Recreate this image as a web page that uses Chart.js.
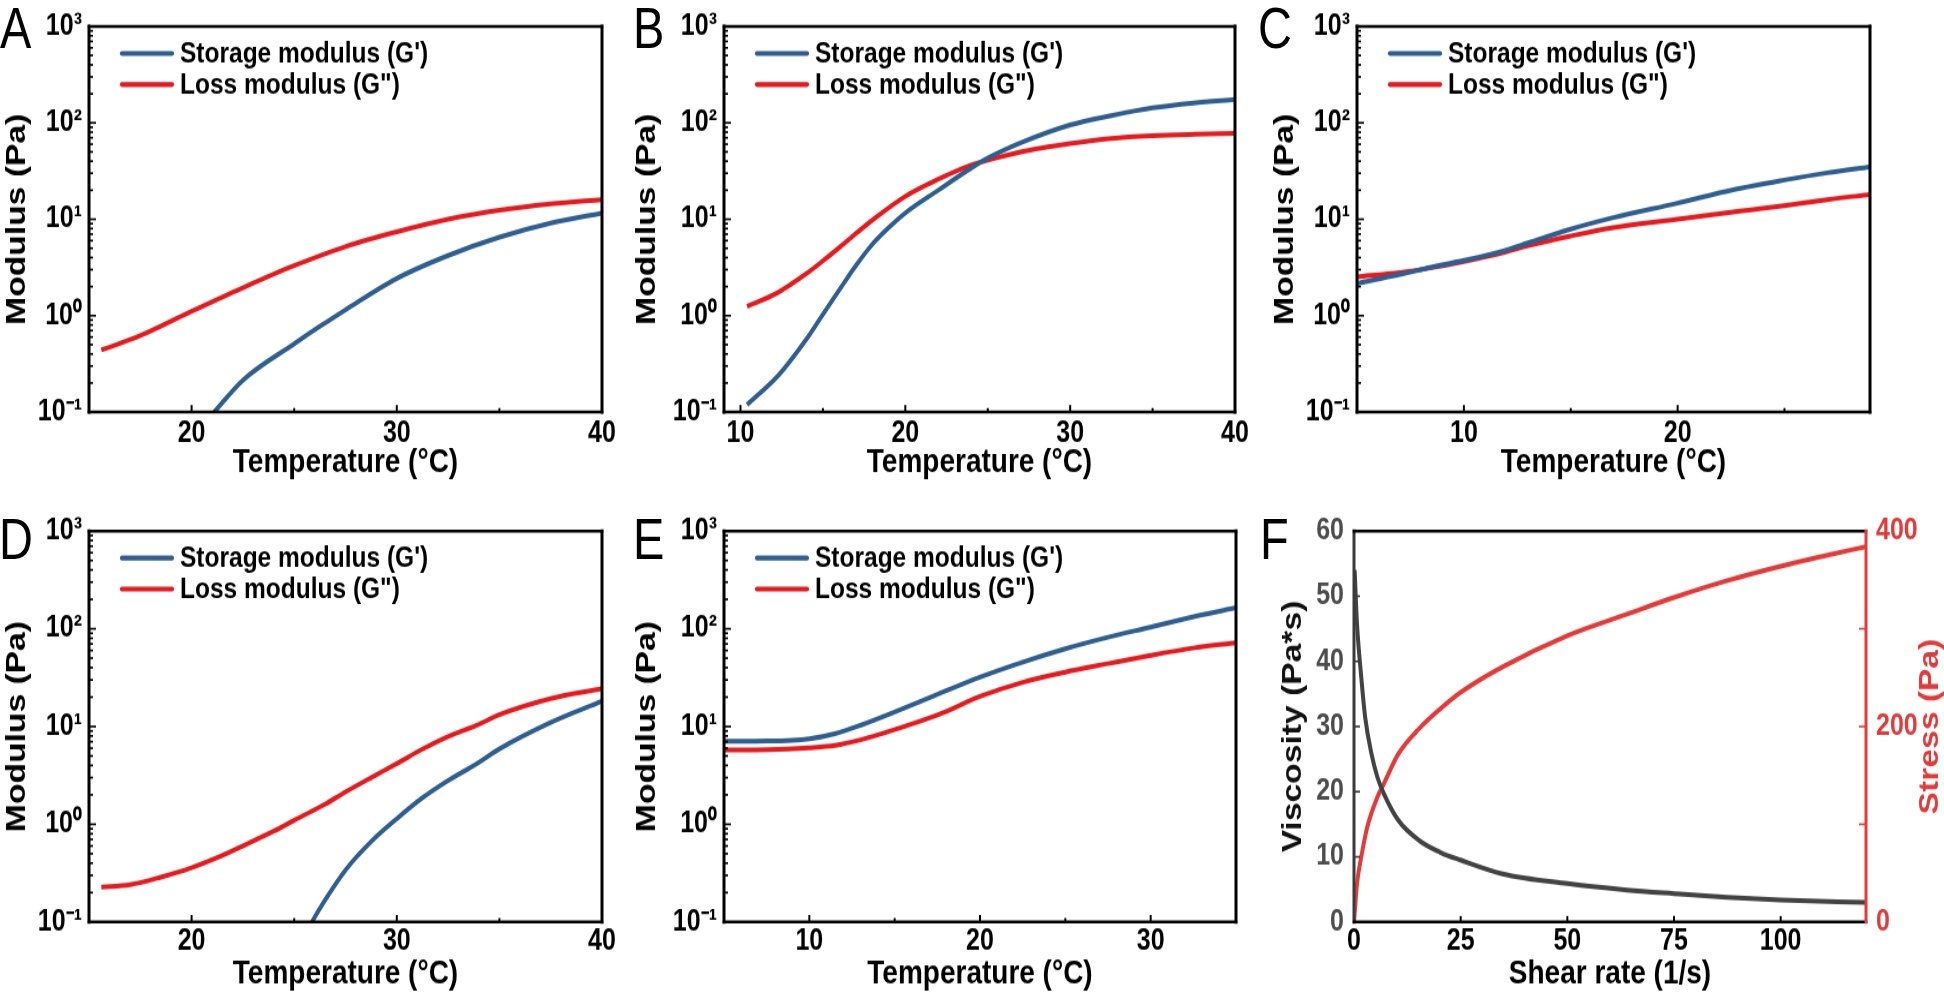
<!DOCTYPE html>
<html><head><meta charset="utf-8">
<script src="https://cdn.jsdelivr.net/npm/chart.js@4.4.1/dist/chart.umd.min.js"></script>
<style>
html,body{margin:0;padding:0;background:#fff;width:1944px;height:993px;overflow:hidden}
#wrap{position:relative;width:1944px;height:993px}
canvas{position:absolute}
.lbl{position:absolute;font-family:'Liberation Sans',Arial,sans-serif;font-size:47px;line-height:47px;color:#000;font-weight:normal;transform:scaleY(1.22);transform-origin:0 0}
</style></head><body><div id="wrap"></div>
<script>
// ---------------- DATA ----------------
// Panel A
const tempA_Gp  = [20.8, 21.1, 22.5, 25, 26.2, 27.5, 30, 32.5, 35, 37.5, 40];
const valA_Gp   = [0.085, 0.1, 0.214, 0.51, 0.76, 1.15, 2.43, 4.2, 6.5, 9.1, 11.6];
const tempA_Gpp = [15.6, 17.5, 20, 22.5, 25, 27.5, 30, 32.5, 35, 37.5, 40];
const valA_Gpp  = [0.44, 0.62, 1.11, 1.95, 3.3, 5.2, 7.4, 10, 12.4, 14.4, 16];
// Panel B
const tempB_Gp  = [10.4, 12.3, 14, 15, 16, 17, 18, 19, 20, 22, 24, 25, 27, 30, 32.5, 35, 37.5, 40];
const valB_Gp   = [0.119, 0.24, 0.57, 1.03, 1.85, 3.3, 5.5, 8.2, 11.6, 20, 34, 43, 62, 95, 119, 143, 161, 175];
const tempB_Gpp = [10.4, 12.2, 14, 15, 16, 17, 18, 20, 22, 24, 25, 27, 30, 32.5, 35, 37.5, 40];
const valB_Gpp  = [1.25, 1.71, 2.73, 3.7, 5.1, 7.1, 9.8, 17.3, 26, 36.5, 41, 50, 61, 69, 73.5, 76, 77.6];
// Panel C
const tempC     = [5, 7, 8.4, 10, 11.9, 13, 15, 17, 20, 22.6, 25, 27, 29];
const valC_Gp   = [2.16, 2.67, 3.15, 3.74, 4.73, 5.67, 7.9, 10.4, 14.7, 20.2, 25.5, 30.3, 34.9];
const valC_Gpp  = [2.53, 2.8, 3.12, 3.65, 4.55, 5.3, 6.7, 8.2, 10, 11.9, 13.8, 16, 18];
// Panel D
const tempD_Gp  = [25.5, 25.87, 26.6, 27.5, 28.8, 30, 31.2, 32.5, 33.9, 35, 37.5, 40];
const valD_Gp   = [0.07, 0.1, 0.18, 0.34, 0.68, 1.14, 1.83, 2.8, 4.17, 5.9, 11, 18.2];
const tempD_Gpp = [15.6, 17, 18.5, 20, 21.5, 22.7, 24, 25, 26.5, 27.5, 28.8, 30, 31.2, 32.5, 33.9, 35, 37.5, 40];
const valD_Gpp  = [0.228, 0.241, 0.288, 0.36, 0.48, 0.63, 0.85, 1.1, 1.6, 2.14, 3.04, 4.17, 5.8, 7.9, 10.3, 13.2, 19.3, 24.4];
// Panel E
const tempE     = [5, 7.6, 10, 11.5, 13, 15, 17.6, 20, 22.4, 25, 27.5, 30, 32.6, 35];
const valE_Gp   = [7.05, 7.1, 7.5, 8.45, 10.3, 14.1, 21.7, 32, 45, 62.5, 82, 104, 134, 164];
const valE_Gpp  = [5.75, 5.8, 6.07, 6.4, 7.3, 9.3, 13.3, 20.3, 28, 36, 44, 53.5, 64, 72];
// Panel F
const shearVisc   = [0.15, 0.7, 1.7, 2.6, 4.1, 5.5, 7, 10.4, 15.3, 20.2, 25, 34.8, 50, 64, 75, 87.3, 100, 120];
const viscosity   = [54, 45.8, 37.6, 31.5, 25.8, 22.2, 19.7, 15.6, 12.5, 10.7, 9.5, 7.4, 5.9, 4.9, 4.35, 3.8, 3.4, 3.0];
const shearStress = [0, 0.7, 1.7, 3.1, 5.5, 7, 10.4, 15.3, 20.2, 25, 34.8, 50, 64, 75, 87.3, 100, 110.7, 120];
const stress      = [0, 39, 66.5, 97, 128, 141.5, 172, 198, 218, 235, 261, 293, 315, 332, 349, 364, 375, 384];

// Tick labels
const modulusTicks  = [0.1, 1, 10, 100, 1000];
const modulusLabels = ['10⁻¹', '10⁰', '10¹', '10²', '10³'];
const minorMult     = [2, 3, 4, 5, 6, 7, 8, 9];
const tempTicksAD   = [20, 30, 40];
const tempTicksB    = [10, 20, 30, 40];
const tempTicksC    = [10, 20];
const tempTicksE    = [10, 20, 30];
const shearTicks    = [0, 25, 50, 75, 100];
const viscTicks     = [0, 10, 20, 30, 40, 50, 60];
const stressTicks   = [0, 200, 400];
const stressMinor   = [100, 300];
const seriesNames   = ["Storage modulus (G')", 'Loss modulus (G")'];

// ---------------- STYLE / LAYOUT ----------------
const FONT = "'Liberation Sans', Arial, Helvetica, sans-serif";
const BLUE = '#2f5e90', RED = '#e41b1f', GREY = '#434343', FRED = '#e33a3a';
const S = 1.2;              // vertical stretch of the original figure
const TICK = 25, TITLE = 28, LEG = 24.5;
Chart.defaults.font.family = FONT;
Chart.defaults.color = '#000';

const pts = (xs, ys) => xs.map((x, i) => ({x, y: ys[i]}));
const logMinor = () => modulusTicks.slice(0, -1).flatMap(d => minorMult.map(m => m * d));

const deco = {
  id: 'deco',
  afterDatasetsDraw(chart, args, o) {
    const {ctx, chartArea: ca, scales} = chart;
    ctx.save();
    for (const m of (o.marks || [])) {
      const s = scales[m.axis];
      ctx.strokeStyle = m.color; ctx.lineCap = 'butt';
      for (const v of m.values) {
        const p = s.getPixelForValue(v);
        ctx.beginPath();
        if (s.isHorizontal()) { ctx.lineWidth = 2; ctx.moveTo(p, ca.bottom); ctx.lineTo(p, ca.bottom - m.len / S); }
        else if (s.position === 'right') { ctx.lineWidth = 2 / S; ctx.moveTo(ca.right, p); ctx.lineTo(ca.right - m.len, p); }
        else { ctx.lineWidth = 2 / S; ctx.moveTo(ca.left, p); ctx.lineTo(ca.left + m.len, p); }
        ctx.stroke();
      }
    }
    const f = o.frame;
    ctx.lineCap = 'square';
    const side = (c, w, x1, y1, x2, y2) => { ctx.strokeStyle = c; ctx.lineWidth = w; ctx.beginPath(); ctx.moveTo(x1, y1); ctx.lineTo(x2, y2); ctx.stroke(); };
    side(f.left, 3, ca.left, ca.top, ca.left, ca.bottom);
    side(f.top, 3 / S, ca.left, ca.top, ca.right, ca.top);
    side(f.bottom, 3 / S, ca.left, ca.bottom, ca.right, ca.bottom);
    side(f.right, 3, ca.right, ca.top, ca.right, ca.bottom);
    if (o.legend) {
      ctx.font = `bold ${LEG}px ${FONT}`; ctx.textBaseline = 'middle'; ctx.textAlign = 'left'; ctx.fillStyle = '#000';
      chart.data.datasets.forEach((ds, i) => {
        const y = ca.top + (27 + i * 31) / S;
        ctx.strokeStyle = ds.borderColor; ctx.lineWidth = 4.2; ctx.lineCap = 'round';
        ctx.beginPath(); ctx.moveTo(ca.left + 33, y); ctx.lineTo(ca.left + 83, y); ctx.stroke();
        ctx.fillText(ds.label, ca.left + 91, y + 1);
      });
    }
    if (o.rightTitle) {
      ctx.font = `bold ${TITLE}px ${FONT}`; ctx.fillStyle = o.rightTitle.color;
      ctx.textAlign = 'center'; ctx.textBaseline = 'middle';
      ctx.translate(ca.right + 64, (ca.top + ca.bottom) / 2);
      ctx.rotate(-Math.PI / 2);
      ctx.fillText(o.rightTitle.text, 0, 0);
    }
    ctx.restore();
  }
};

// canvas: [left, top, width, height] on page; area: [left, top, right, bottom] on page
function setup(canvas, area, titleY, labelGap) {
  const [cl, ct, cw, ch] = canvas;
  const chc = Math.round(ch / S);
  const yc = y => (y - ct) * chc / ch;
  const scaleBottom = yc(titleY) + 1.2 * TITLE / 2;
  const aTop = yc(area[1]), aBottom = yc(area[3]);
  const cv = document.createElement('canvas');
  cv.width = cw; cv.height = chc;
  cv.style.left = cl + 'px'; cv.style.top = ct + 'px';
  cv.style.width = cw + 'px'; cv.style.height = ch + 'px';
  document.getElementById('wrap').appendChild(cv);
  return {
    cv,
    xH: scaleBottom - aBottom,
    padding: {left: 0, top: aTop, right: cl + cw - area[2], bottom: chc - scaleBottom},
    yW: area[0] - cl,
    labelPad: Math.max(0, yc(area[3] + labelGap) - aBottom - 1.2 * TICK / 2)
  };
}

function xScale(min, max, ticks, title, L) {
  return {
    type: 'linear', position: 'bottom', min, max,
    afterBuildTicks: s => { s.ticks = ticks.map(v => ({value: v})); },
    afterFit: s => { s.height = L.xH; },
    ticks: {font: {size: TICK, weight: 'bold'}, color: '#000', padding: L.labelPad, maxRotation: 0, autoSkip: false,
            callback: v => String(v)},
    grid: {display: false, drawTicks: false}, border: {display: false},
    title: {display: true, text: title, font: {size: TITLE, weight: 'bold'}, color: '#000', padding: {top: 0, bottom: 0}}
  };
}

function modulusPanel(p) {
  const L = setup(p.canvas, p.area, p.titleY, p.labelGap);
  new Chart(L.cv, {
    type: 'line',
    data: {datasets: [
      {label: seriesNames[0], data: pts(p.gpX, p.gpY), borderColor: BLUE, borderWidth: 4, pointRadius: 0,
       cubicInterpolationMode: 'monotone', fill: false},
      {label: seriesNames[1], data: pts(p.gppX, p.gppY), borderColor: RED, borderWidth: 4, pointRadius: 0,
       cubicInterpolationMode: 'monotone', fill: false}
    ]},
    options: {
      responsive: false, animation: false, devicePixelRatio: 1, events: [],
      layout: {padding: L.padding, autoPadding: false},
      plugins: {legend: {display: false}, tooltip: {enabled: false},
        deco: {legend: true, frame: {top: '#000', bottom: '#000', left: '#000', right: '#000'},
          marks: [
            {axis: 'x', values: p.xTicks, len: 7, color: '#000'},
            {axis: 'x', values: p.xMinor, len: 4, color: '#000'},
            {axis: 'y', values: modulusTicks, len: 7, color: '#000'},
            {axis: 'y', values: logMinor(), len: 4, color: '#000'}
          ]}},
      scales: {
        x: xScale(p.xMin, p.xMax, p.xTicks, 'Temperature (°C)', L),
        y: {
          type: 'logarithmic', position: 'left', min: 0.1, max: 1000,
          afterBuildTicks: s => { s.ticks = modulusTicks.map(v => ({value: v})); },
          afterFit: s => { s.width = L.yW; },
          ticks: {font: {size: TICK, weight: 'bold'}, color: '#000', padding: 7, autoSkip: false,
                  callback: (v, i) => modulusLabels[i]},
          grid: {display: false, drawTicks: false}, border: {display: false},
          title: {display: true, text: 'Modulus (Pa)', font: {size: TITLE, weight: 'bold'}, color: '#000', padding: {top: 0, bottom: 0}}
        }
      }
    },
    plugins: [deco]
  });
}

modulusPanel({canvas: [0, 0, 640, 490], area: [89, 20, 602, 412], titleY: 463, labelGap: 21.5,
  xMin: 15, xMax: 40, xTicks: tempTicksAD, xMinor: [25, 35],
  gpX: tempA_Gp, gpY: valA_Gp, gppX: tempA_Gpp, gppY: valA_Gpp});
modulusPanel({canvas: [630, 0, 640, 490], area: [724, 20, 1235, 412], titleY: 463, labelGap: 21.5,
  xMin: 9, xMax: 40, xTicks: tempTicksB, xMinor: [15, 25, 35],
  gpX: tempB_Gp, gpY: valB_Gp, gppX: tempB_Gpp, gppY: valB_Gpp});
modulusPanel({canvas: [1268, 0, 676, 490], area: [1357, 20, 1870, 412], titleY: 463, labelGap: 21.5,
  xMin: 5, xMax: 29, xTicks: tempTicksC, xMinor: [15, 25],
  gpX: tempC, gpY: valC_Gp, gppX: tempC, gppY: valC_Gpp});
modulusPanel({canvas: [0, 490, 640, 503], area: [89, 531, 602, 922], titleY: 974, labelGap: 20,
  xMin: 15, xMax: 40, xTicks: tempTicksAD, xMinor: [25, 35],
  gpX: tempD_Gp, gpY: valD_Gp, gppX: tempD_Gpp, gppY: valD_Gpp});
modulusPanel({canvas: [630, 490, 640, 503], area: [724, 531, 1236, 922], titleY: 974, labelGap: 20,
  xMin: 5, xMax: 35, xTicks: tempTicksE, xMinor: [15, 25],
  gpX: tempE, gpY: valE_Gp, gppX: tempE, gppY: valE_Gpp});

// Panel F
(function () {
  const canvas = [1276, 490, 668, 503], area = [1354, 531, 1866, 922];
  const L = setup(canvas, area, 974, 20);
  L.padding.right = 0;
  new Chart(L.cv, {
    type: 'line',
    data: {datasets: [
      {label: 'Viscosity', data: pts(shearVisc, viscosity), yAxisID: 'y', borderColor: GREY, borderWidth: 4,
       pointRadius: 0, cubicInterpolationMode: 'monotone', fill: false},
      {label: 'Stress', data: pts(shearStress, stress), yAxisID: 'y2', borderColor: FRED, borderWidth: 4,
       pointRadius: 0, cubicInterpolationMode: 'monotone', fill: false}
    ]},
    options: {
      responsive: false, animation: false, devicePixelRatio: 1, events: [],
      layout: {padding: L.padding, autoPadding: false},
      plugins: {legend: {display: false}, tooltip: {enabled: false},
        deco: {legend: false, frame: {top: '#000', bottom: '#000', left: '#3a3a3a', right: FRED},
          rightTitle: {text: 'Stress (Pa)', color: FRED},
          marks: [
            {axis: 'x', values: shearTicks, len: 6, color: '#000'},
            {axis: 'y', values: viscTicks, len: 6, color: '#3a3a3a'},
            {axis: 'y2', values: stressTicks, len: 7, color: FRED},
            {axis: 'y2', values: stressMinor, len: 7, color: FRED}
          ]}},
      scales: {
        x: xScale(0, 120, shearTicks, 'Shear rate (1/s)', L),
        y: {
          type: 'linear', position: 'left', min: 0, max: 60,
          afterBuildTicks: s => { s.ticks = viscTicks.map(v => ({value: v})); },
          afterFit: s => { s.width = L.yW; },
          ticks: {font: {size: TICK, weight: 'bold'}, color: '#4d4d4d', padding: 10, autoSkip: false, callback: v => String(v)},
          grid: {display: false, drawTicks: false}, border: {display: false},
          title: {display: true, text: 'Viscosity (Pa*s)', font: {size: TITLE, weight: 'bold'}, color: '#111', padding: {top: 0, bottom: 0}}
        },
        y2: {
          type: 'linear', position: 'right', min: 0, max: 400,
          afterBuildTicks: s => { s.ticks = stressTicks.map(v => ({value: v})); },
          afterFit: s => { s.width = canvas[0] + canvas[2] - area[2]; },
          ticks: {font: {size: TICK, weight: 'bold'}, color: FRED, padding: 10, autoSkip: false, callback: v => String(v)},
          grid: {display: false, drawTicks: false}, border: {display: false},
          title: {display: false}
        }
      }
    },
    plugins: [deco]
  });
})();

// Panel letters
[['A', 0, -1], ['B', 633, -1], ['C', 1258, -1], ['D', -1, 510], ['E', 633, 510], ['F', 1260, 510]].forEach(([t, x, y]) => {
  const d = document.createElement('div');
  d.className = 'lbl'; d.textContent = t; d.style.left = x + 'px'; d.style.top = y + 'px';
  document.getElementById('wrap').appendChild(d);
});
</script></body></html>
